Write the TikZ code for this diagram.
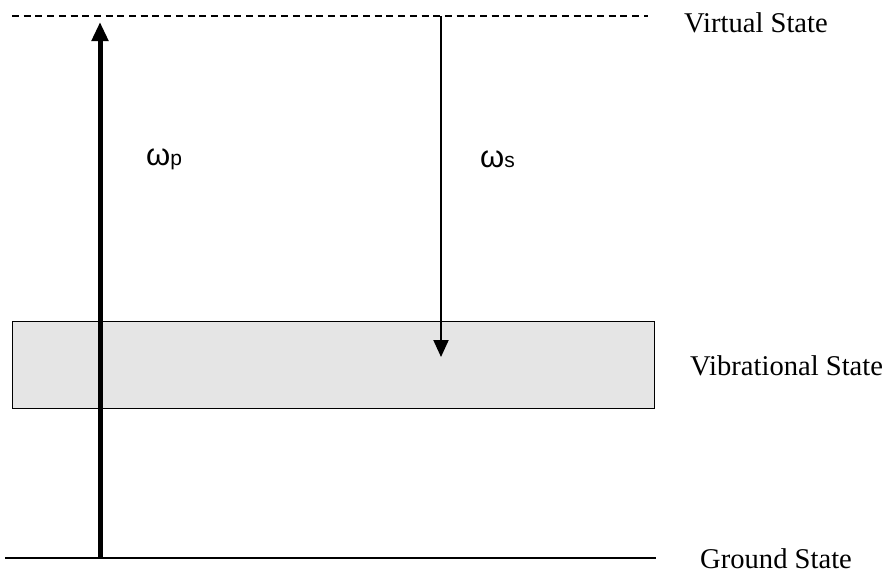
\documentclass[tikz,border=0pt]{standalone}
\usepackage{fontspec}
\setmainfont{Liberation Serif}
\newfontfamily\arialfont{Liberation Sans}
\usetikzlibrary{arrows.meta}
\tikzset{
  statelabel/.style={anchor=base west, inner sep=0pt, font=\fontsize{28.6}{30}\selectfont},
  omegalabel/.style={anchor=base west, inner sep=0pt, font=\arialfont\fontsize{31}{33}\selectfont},
  levelline/.style={line width=2pt},
  virtualline/.style={line width=1.3pt, dash pattern=on 7pt off 4.7pt},
  vibband/.style={draw=black, line width=1.2pt, fill=black!10},
  pumparrow/.style={line width=5pt, -{Triangle[width=16pt,length=19pt]}},
  stokesarrow/.style={line width=2pt, -{Triangle[width=15pt,length=17pt]}}
}
\begin{document}
\begin{tikzpicture}[x=1pt,y=-1pt]
\useasboundingbox (0,0) rectangle (891,574);
% levels
\coordinate (vL) at (12,16);
\coordinate (vR) at (648,16);
\coordinate (gL) at (5,558);
\coordinate (gR) at (656,558);
\draw[virtualline] (vL) -- (vR);
\draw[levelline] (gL) -- (gR);
\node[vibband, minimum width=642pt, minimum height=87pt, inner sep=0pt, anchor=north west] (band) at (12,321) {};
% arrows
\coordinate (pStart) at (100,558);
\coordinate (pEnd) at (100,22);
\draw[pumparrow] (pStart) -- (pEnd);
\coordinate (sStart) at (441,16);
\coordinate (sEnd) at (441,357);
\draw[stokesarrow] (sStart) -- (sEnd);
% labels
\node[omegalabel] (wp) at (146,165) {ω{\fontsize{21}{21}\selectfont p}};
\node[omegalabel] (ws) at (480,167) {ω{\fontsize{21}{21}\selectfont s}};
\node[statelabel] (virt) at (684,32) {Virtual State};
\node[statelabel] (vib) at (690,375) {Vibrational State};
\node[statelabel] (gnd) at (700,568) {Ground State};
\end{tikzpicture}
\end{document}
